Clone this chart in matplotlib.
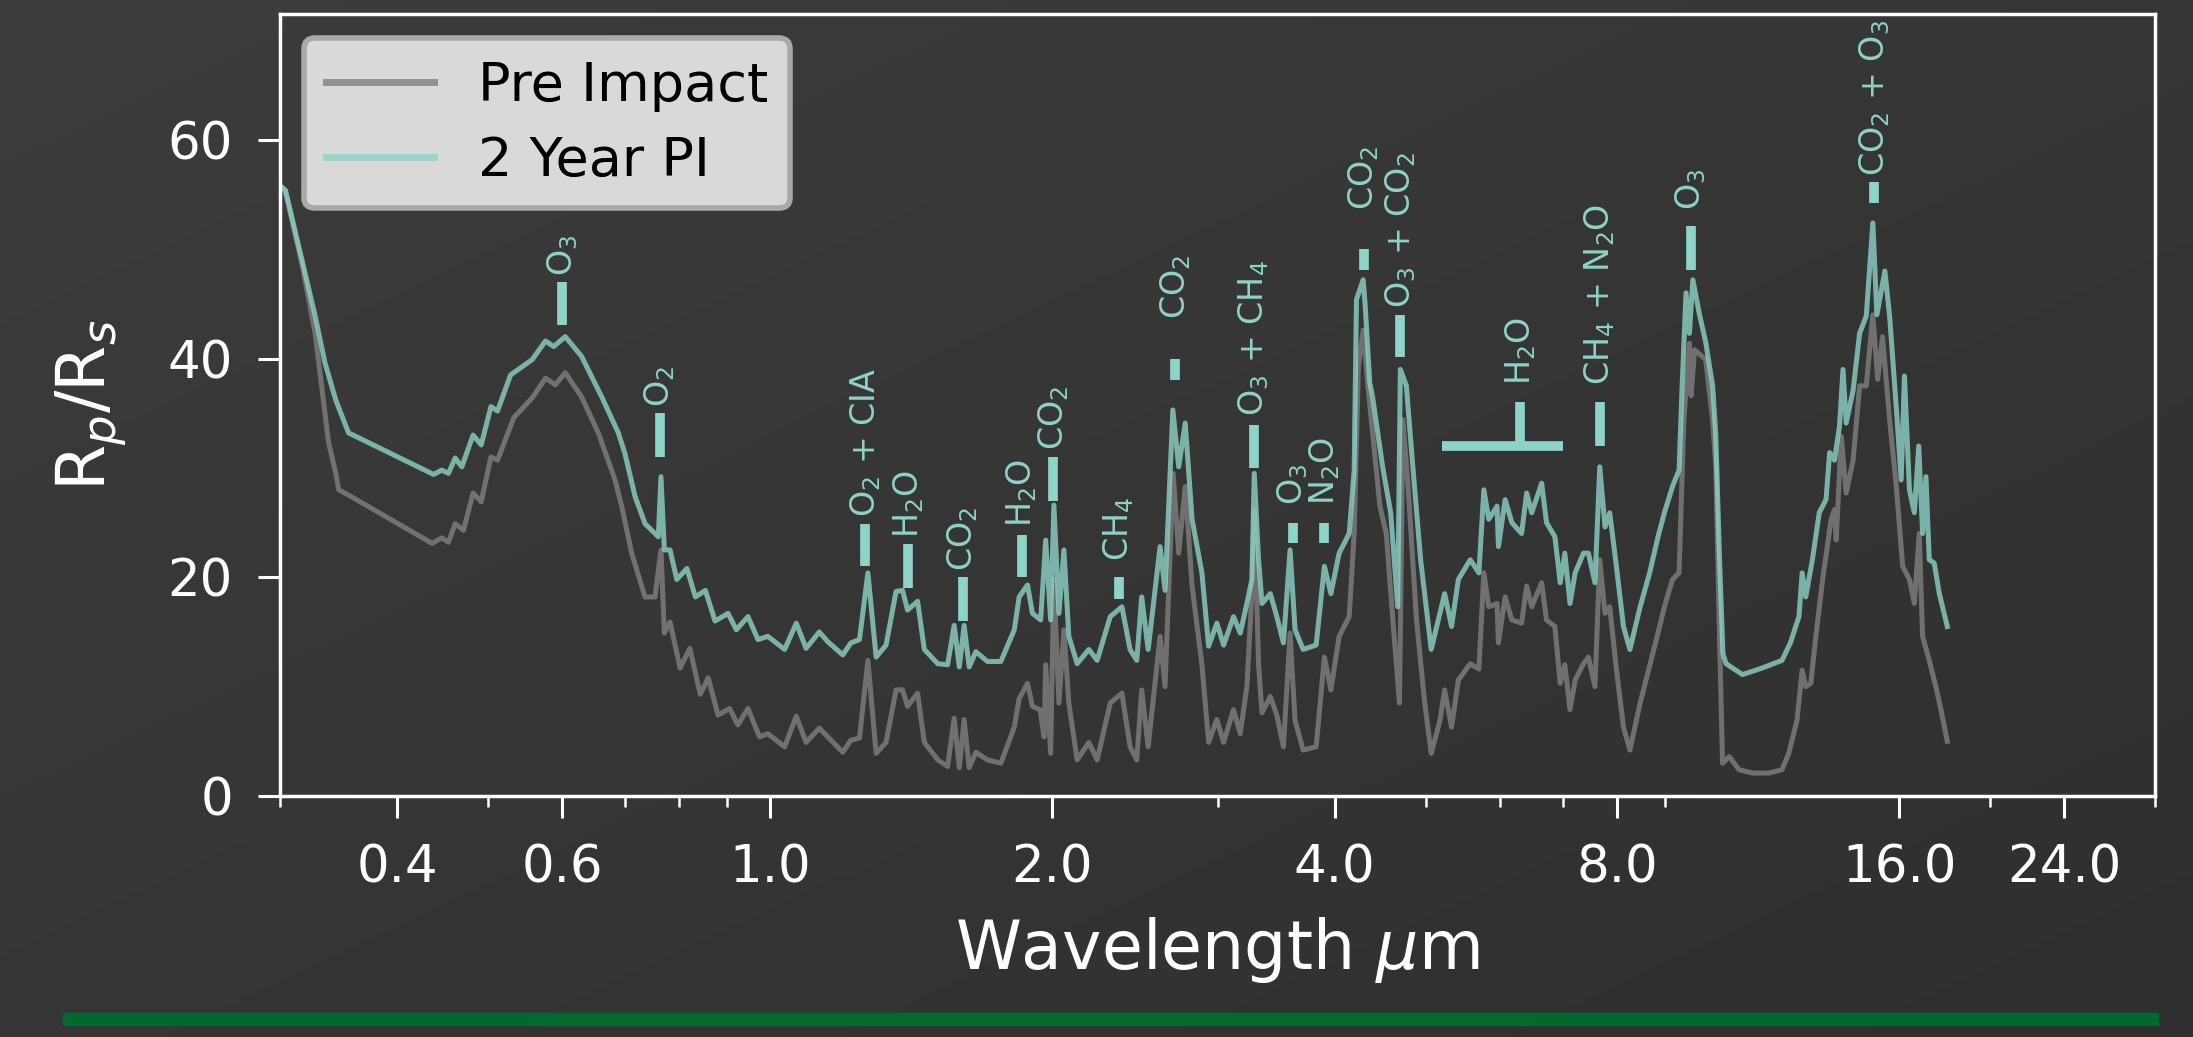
import matplotlib.pyplot as plt
import numpy as np
from matplotlib.patches import Rectangle
from matplotlib.ticker import NullFormatter

plt.rcParams["font.family"] = ["DejaVu Sans"]

# spectrum before the impact
wl_pre = [0.300, 0.304, 0.317, 0.327, 0.3337, 0.338, 0.344, 0.3465, 0.3552, 0.4358,
          0.4463, 0.4537, 0.4612, 0.4707, 0.4820, 0.4917, 0.5036, 0.5118, 0.5327, 0.5573,
          0.5758, 0.5898, 0.6044, 0.6291, 0.6556, 0.6830, 0.6943, 0.7115, 0.7352, 0.7534,
          0.7646, 0.7710, 0.7818, 0.8014, 0.8208, 0.8420, 0.8587, 0.8796, 0.9051, 0.9234,
          0.9468, 0.9741, 0.994, 1.036, 1.066, 1.092, 1.128, 1.152, 1.195, 1.219,
          1.245, 1.271, 1.297, 1.329, 1.362, 1.384, 1.401, 1.436, 1.460, 1.509,
          1.546, 1.571, 1.591, 1.610, 1.630, 1.657, 1.705, 1.762, 1.821, 1.843,
          1.881, 1.904, 1.940, 1.959, 1.967, 1.991, 2.007, 2.032, 2.057, 2.082,
          2.125, 2.187, 2.232, 2.305, 2.372, 2.420, 2.460, 2.490, 2.530, 2.605,
          2.637, 2.690, 2.727, 2.771, 2.818, 2.887, 2.935, 2.995, 3.045, 3.120,
          3.172, 3.224, 3.264, 3.283, 3.318, 3.346, 3.415, 3.470, 3.527, 3.585,
          3.629, 3.702, 3.822, 3.900, 3.963, 4.044, 4.145, 4.196, 4.24, 4.29,
          4.34, 4.47, 4.54, 4.62, 4.69, 4.73, 4.79, 4.89, 4.99, 5.07,
          5.18, 5.24, 5.33, 5.42, 5.58, 5.70, 5.77, 5.84, 5.96, 5.98,
          6.08, 6.18, 6.33, 6.41, 6.49, 6.65, 6.73, 6.87, 6.96, 7.04,
          7.13, 7.22, 7.37, 7.46, 7.58, 7.67, 7.77, 7.86, 7.99, 8.13,
          8.26, 8.47, 8.67, 8.85, 8.99, 9.17, 9.32, 9.43, 9.56, 9.60,
          9.68, 9.95, 10.12, 10.20, 10.29, 10.37, 10.54, 10.80, 11.16, 11.62,
          12.00, 12.20, 12.45, 12.61, 12.72, 12.88, 13.04, 13.26, 13.54, 13.65,
          13.71, 13.88, 14.05, 14.29, 14.52, 14.76, 15.00, 15.18, 15.36, 15.63,
          15.89, 16.14, 16.41, 16.61, 16.81, 16.95, 17.23, 17.51, 17.73, 18.01]
rp_pre = [55.8, 55.2, 48.4, 42.3, 36.2, 32.3, 29.5, 28.0, 27.5, 23.1,
          23.6, 23.2, 24.9, 24.3, 27.7, 26.9, 31.0, 30.7, 34.6, 36.4,
          38.2, 37.6, 38.7, 36.5, 33.2, 28.9, 26.5, 22.2, 18.2, 18.2,
          22.5, 14.9, 15.9, 11.7, 13.5, 9.3, 10.8, 7.4, 8.0, 6.5,
          8.0, 5.4, 5.7, 4.5, 7.3, 4.9, 6.2, 5.4, 4.0, 5.1,
          5.3, 12.4, 3.9, 4.9, 9.7, 9.7, 8.2, 9.4, 4.9, 3.3,
          2.7, 7.1, 2.6, 7.0, 2.6, 4.0, 3.3, 3.0, 6.3, 8.9,
          10.3, 8.2, 7.9, 5.4, 12.0, 3.9, 19.8, 8.5, 15.2, 8.5,
          3.3, 4.9, 3.3, 8.5, 9.4, 4.5, 3.3, 9.7, 4.5, 14.6,
          10.0, 29.5, 22.2, 28.3, 19.2, 12.0, 4.9, 7.0, 4.9, 7.9,
          5.7, 10.0, 18.5, 26.0, 12.0, 7.6, 9.1, 7.4, 4.5, 14.9,
          6.9, 4.2, 4.5, 12.7, 9.7, 14.6, 16.4, 24.0, 39.3, 42.6,
          37.5, 26.5, 24.0, 15.5, 8.5, 34.4, 28.3, 16.1, 8.5, 3.9,
          6.9, 9.7, 6.3, 10.6, 12.1, 11.6, 20.4, 17.3, 17.6, 14.0,
          18.2, 16.1, 15.8, 19.2, 17.3, 19.5, 16.1, 15.5, 10.3, 12.0,
          7.9, 10.6, 12.1, 12.7, 10.0, 21.6, 16.7, 17.3, 11.6, 6.3,
          4.2, 8.5, 11.9, 14.9, 17.3, 19.8, 20.4, 34.4, 41.4, 36.6,
          40.8, 39.9, 34.4, 30.0, 15.0, 3.0, 3.6, 2.4, 2.1, 2.1,
          2.4, 3.9, 6.9, 11.5, 10.0, 10.3, 14.6, 19.8, 25.3, 26.2,
          23.4, 32.9, 27.7, 30.7, 37.5, 37.5, 44.0, 38.1, 42.0, 34.4,
          28.3, 21.0, 19.8, 17.6, 24.0, 14.6, 12.4, 10.0, 7.9, 5.0]

# spectrum two years after the impact
wl_2yr = [0.300, 0.304, 0.317, 0.327, 0.335, 0.344, 0.355, 0.4375, 0.4463, 0.4537,
          0.4612, 0.4688, 0.4820, 0.4917, 0.5036, 0.5118, 0.5285, 0.5573, 0.5758, 0.5875,
          0.6044, 0.6291, 0.6610, 0.6886, 0.6999, 0.7174, 0.7352, 0.7473, 0.7596, 0.7646,
          0.7710, 0.7818, 0.7949, 0.8150, 0.8320, 0.8527, 0.8732, 0.9016, 0.9200, 0.9468,
          0.9703, 0.994, 1.036, 1.066, 1.092, 1.128, 1.152, 1.195, 1.219, 1.245,
          1.271, 1.297, 1.329, 1.362, 1.384, 1.401, 1.436, 1.460, 1.509, 1.546,
          1.571, 1.591, 1.610, 1.630, 1.657, 1.705, 1.762, 1.821, 1.843, 1.881,
          1.904, 1.943, 1.967, 1.991, 2.007, 2.032, 2.057, 2.082, 2.125, 2.187,
          2.232, 2.305, 2.372, 2.420, 2.460, 2.490, 2.530, 2.605, 2.637, 2.688,
          2.727, 2.771, 2.818, 2.887, 2.935, 2.995, 3.045, 3.120, 3.172, 3.224,
          3.264, 3.283, 3.318, 3.346, 3.415, 3.470, 3.527, 3.585, 3.629, 3.702,
          3.822, 3.900, 3.963, 4.044, 4.145, 4.196, 4.22, 4.29, 4.31, 4.36,
          4.39, 4.50, 4.59, 4.67, 4.70, 4.77, 4.84, 4.94, 5.07, 5.18,
          5.24, 5.33, 5.42, 5.58, 5.70, 5.77, 5.84, 5.96, 5.98, 6.08,
          6.18, 6.33, 6.41, 6.49, 6.65, 6.73, 6.87, 6.96, 7.04, 7.13,
          7.22, 7.37, 7.46, 7.58, 7.67, 7.77, 7.86, 7.99, 8.13, 8.26,
          8.47, 8.67, 8.85, 8.99, 9.17, 9.32, 9.39, 9.48, 9.56, 9.64,
          9.80, 9.95, 10.12, 10.20, 10.29, 10.38, 10.46, 10.89, 11.43, 12.00,
          12.25, 12.51, 12.61, 12.72, 12.93, 13.15, 13.37, 13.49, 13.65, 13.82,
          13.94, 14.05, 14.29, 14.52, 14.76, 15.00, 15.15, 15.45, 15.63, 15.89,
          16.08, 16.21, 16.41, 16.61, 16.79, 16.95, 17.09, 17.23, 17.44, 17.66,
          18.01]
rp_2yr = [55.8, 55.4, 48.8, 43.9, 39.6, 36.2, 33.2, 29.4, 29.8, 29.5,
          30.9, 30.1, 33.0, 32.1, 35.6, 35.2, 38.5, 39.9, 41.6, 41.1,
          42.0, 40.2, 36.5, 33.2, 31.3, 27.4, 24.9, 24.3, 23.7, 29.2,
          22.5, 22.5, 19.8, 20.8, 18.2, 18.8, 16.0, 16.7, 15.2, 16.4,
          14.3, 14.6, 13.4, 15.8, 13.5, 15.0, 14.1, 12.9, 14.0, 14.3,
          20.4, 12.7, 13.8, 18.7, 18.8, 17.0, 17.8, 13.4, 12.1, 12.0,
          15.6, 11.8, 15.6, 11.8, 13.2, 12.3, 12.3, 15.2, 18.2, 19.3,
          16.7, 16.1, 23.4, 16.1, 26.6, 16.7, 22.5, 14.6, 12.1, 13.4,
          12.4, 16.4, 17.3, 13.4, 12.4, 18.2, 13.4, 22.8, 18.8, 35.3,
          30.1, 34.1, 25.3, 20.4, 13.7, 15.8, 13.8, 16.4, 14.9, 17.6,
          19.8, 29.5, 21.6, 17.6, 18.5, 16.4, 14.0, 22.5, 15.2, 13.4,
          13.8, 21.0, 18.5, 22.2, 24.0, 29.8, 45.4, 47.2, 45.0, 37.8,
          36.5, 30.1, 25.9, 17.3, 39.0, 37.5, 30.7, 21.6, 13.4, 16.7,
          18.5, 15.5, 19.8, 21.6, 20.4, 28.0, 25.3, 26.5, 22.8, 27.1,
          25.0, 24.0, 27.7, 25.9, 28.6, 25.0, 23.7, 19.5, 22.2, 17.6,
          20.4, 22.2, 22.2, 19.5, 30.1, 24.6, 25.9, 21.0, 15.5, 13.4,
          17.3, 20.4, 23.7, 25.9, 28.3, 29.8, 37.5, 46.0, 42.3, 47.2,
          44.0, 41.5, 37.5, 33.0, 22.0, 13.0, 12.1, 11.1, 11.7, 12.4,
          14.0, 16.4, 20.4, 18.2, 21.6, 25.9, 27.1, 31.4, 30.7, 33.8,
          39.0, 34.1, 37.1, 42.3, 43.9, 52.4, 44.0, 48.0, 43.9, 35.5,
          28.9, 38.4, 28.0, 25.9, 32.0, 24.0, 29.2, 21.6, 21.3, 18.5,
          15.5]

# absorption feature markers
feat_wl = [0.60, 0.763, 1.263, 1.404, 1.604, 1.855, 2.004, 2.355, 2.705,
           3.28, 3.61, 3.90, 4.30, 4.70, 7.67, 9.60, 15.06]
feat_lo = [43.1, 31.0, 21.0, 19.0, 16.0, 20.0, 27.0, 18.0, 38.0,
           30.0, 23.1, 23.1, 48.1, 40.1, 32.0, 48.1, 54.2]
feat_hi = [47.0, 35.0, 24.9, 23.0, 20.0, 23.9, 31.0, 20.0, 40.0,
           33.9, 25.0, 25.0, 50.0, 44.0, 36.0, 52.1, 56.1]
feat_txt = [47.5, 35.6, 25.5, 23.6, 20.6, 24.6, 31.6, 21.5, 43.6,
            34.7, 26.6, 26.6, 53.6, 44.6, 37.6, 53.6, 56.7]
feat_lab = ["O$_3$", "O$_2$", "O$_2$ + CIA", "H$_2$O", "CO$_2$", "H$_2$O", "CO$_2$",
            "CH$_4$", "CO$_2$", "O$_3$ + CH$_4$", "O$_3$", "N$_2$O", "CO$_2$",
            "O$_3$ + CO$_2$", "CH$_4$ + N$_2$O", "O$_3$", "CO$_2$ + O$_3$"]

# broad water band
h2o_band = [5.21, 7.01]
h2o_wl = 6.31
h2o_lo = 32.0
h2o_hi = 36.0
h2o_txt = 37.6

xticks = [0.4, 0.6, 1.0, 2.0, 4.0, 8.0, 16.0, 24.0]
yticks = [0, 20, 40, 60]

teal = "#8dd3c7"
white = "white"

fig = plt.figure(figsize=(21.93, 10.37), dpi=100)

# dark diagonal gradient behind everything
bg = fig.add_axes([0, 0, 1, 1], zorder=-10)
gx, gy = np.meshgrid(np.linspace(0, 1, 256), np.linspace(0, 1, 128))
shade = 0.5 * (gx + gy)
c0, c1 = np.array([0x3c, 0x3c, 0x3c]) / 255, np.array([0x2f, 0x2f, 0x2f]) / 255
img = c0[None, None, :] * (1 - shade[..., None]) + c1[None, None, :] * shade[..., None]
bg.imshow(img, aspect="auto", extent=[0, 1, 0, 1], origin="upper")
bg.axis("off")

ax = fig.add_axes([0.1277, 0.2324, 0.855, 0.7541])
ax.set_facecolor("none")

ax.plot(wl_pre, rp_pre, color="#808080", alpha=0.8, lw=3.6, label="Pre Impact")
ax.plot(wl_2yr, rp_2yr, color=teal, alpha=0.8, lw=3.6, label="2 Year PI")

ax.vlines(feat_wl, feat_lo, feat_hi, color=teal, lw=7, capstyle="butt")
for w, ty, lab in zip(feat_wl, feat_txt, feat_lab):
    ax.text(w, ty, lab, rotation=90, ha="center", va="bottom",
            fontsize=24, color=teal)

ax.hlines(h2o_lo, h2o_band[0], h2o_band[1], color=teal, lw=7, capstyle="butt")
ax.vlines(h2o_wl, h2o_lo, h2o_hi, color=teal, lw=7, capstyle="butt")
ax.text(h2o_wl, h2o_txt, "H$_2$O", rotation=90, ha="center", va="bottom",
        fontsize=24, color=teal)

ax.set_xscale("log")
ax.set_xlim(0.3, 30)
ax.set_ylim(0, 71.5)
ax.set_xticks(xticks)
ax.set_xticklabels(["%.1f" % t for t in xticks])
ax.xaxis.set_minor_formatter(NullFormatter())
ax.set_yticks(yticks)

for s in ax.spines.values():
    s.set_color(white)
    s.set_linewidth(2.5)
ax.tick_params(which="major", colors=white, labelsize=37, length=16, width=2.2, pad=18)
ax.tick_params(which="minor", colors=white, length=8, width=1.8)

ax.set_xlabel("Wavelength $\\mu$m", fontsize=48, color=white, labelpad=16)
ax.set_ylabel("R$_p$/R$_s$", fontsize=48, color=white, labelpad=28)

leg = ax.legend(loc="upper left", fontsize=39, facecolor="#d9d9d9", edgecolor="#a9a9a9",
                framealpha=1, borderaxespad=0.45, labelspacing=0.42)
leg.get_frame().set_linewidth(4)
for h in leg.get_lines():
    h.set_linewidth(5)

# green strip along the bottom
fig.patches.append(Rectangle((0.0287, 0.0116), 0.9553, 0.0116, transform=fig.transFigure,
                             color="#00692b", zorder=-5))

fig.savefig("out.png", dpi=100)
